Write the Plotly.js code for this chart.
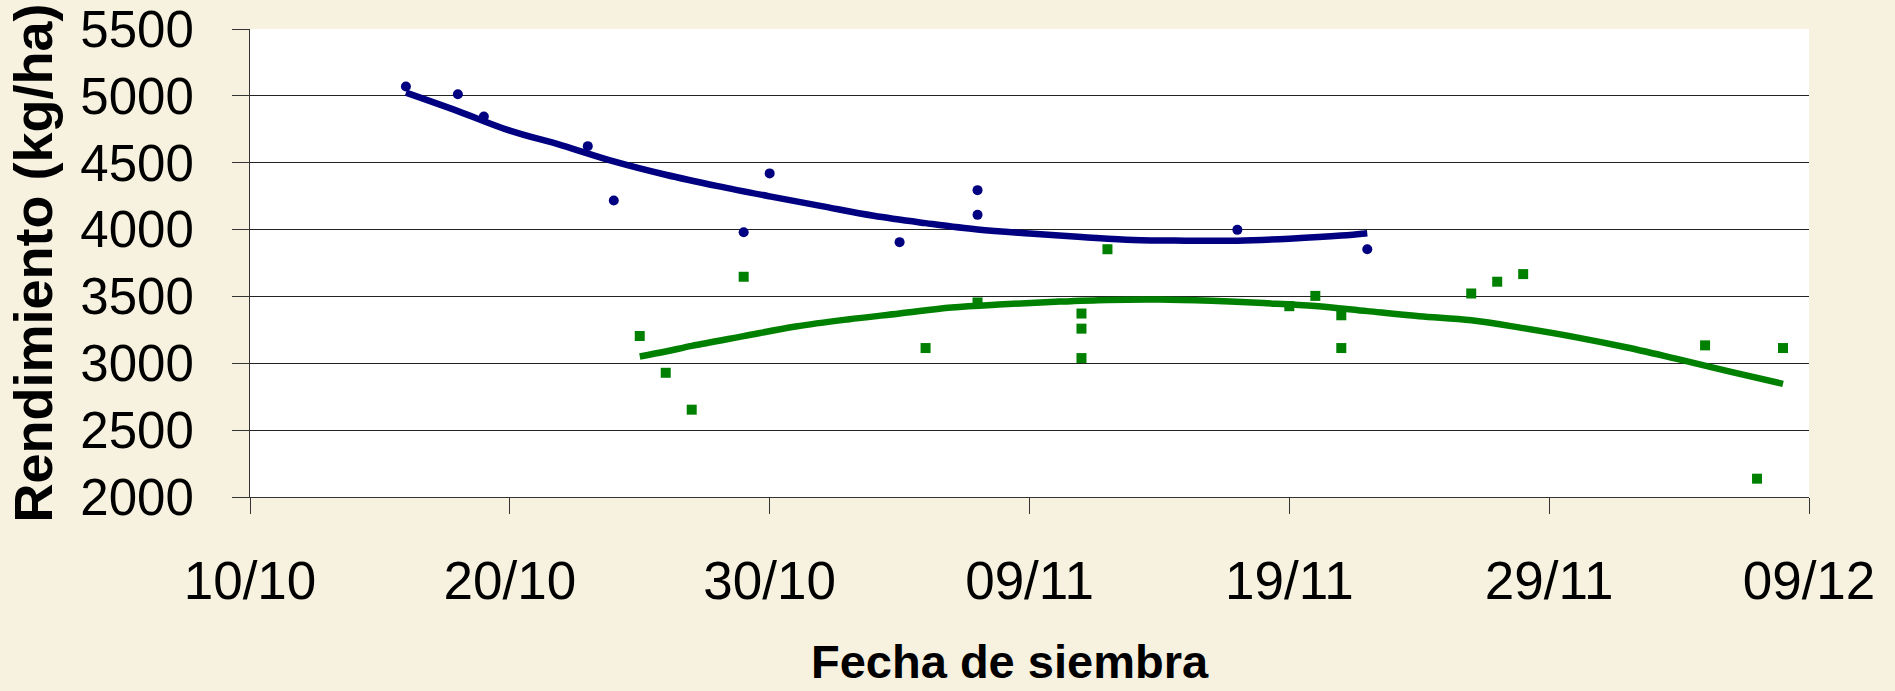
<!DOCTYPE html>
<html>
<head>
<meta charset="utf-8">
<script src="https://cdn.plot.ly/plotly-3.0.1.min.js"></script>
<style>
  html, body { margin: 0; padding: 0; background: #F7F2E0; }
  #chart { width: 1895px; height: 691px; }
</style>
</head>
<body>
<div id="chart"></div>
<script>
// Blue series (observed points)
const blueDates = ['2007-10-16','2007-10-18','2007-10-19','2007-10-23','2007-10-24','2007-10-29','2007-10-30','2007-11-04','2007-11-07','2007-11-07','2007-11-17','2007-11-22'];
const blueYield = [5070, 5012, 4845, 4624, 4218, 3980, 4420, 3906, 4295, 4110, 3998, 3853];

// Blue trend line
const blueTrendDates = ['2007-10-16','2007-10-18','2007-10-20','2007-10-22','2007-10-24','2007-10-26','2007-10-28','2007-10-30','2007-11-01','2007-11-03','2007-11-05','2007-11-07','2007-11-09','2007-11-11','2007-11-13','2007-11-15','2007-11-17','2007-11-19','2007-11-21','2007-11-22'];
const blueTrend = [5024, 4886, 4740, 4630, 4510, 4410, 4325, 4248, 4175, 4103, 4048, 4000, 3970, 3945, 3922, 3917, 3917, 3932, 3955, 3973];

// Green series (observed points)
const greenDates = ['2007-10-25','2007-10-26','2007-10-27','2007-10-29','2007-11-05','2007-11-07','2007-11-11','2007-11-11','2007-11-11','2007-11-12','2007-11-19','2007-11-20','2007-11-21','2007-11-21','2007-11-26','2007-11-27','2007-11-28','2007-12-05','2007-12-07','2007-12-08'];
const greenYield = [3204, 2929, 2653, 3647, 3114, 3455, 3372, 3259, 3039, 3853, 3427, 3504, 3359, 3114, 3522, 3610, 3667, 3134, 2137, 3114];

// Green trend line
const greenTrendDates = ['2007-10-25','2007-10-26','2007-10-27','2007-10-29','2007-10-31','2007-11-02','2007-11-04','2007-11-06','2007-11-08','2007-11-10','2007-11-12','2007-11-14','2007-11-16','2007-11-18','2007-11-20','2007-11-22','2007-11-24','2007-11-26','2007-11-28','2007-11-30','2007-12-02','2007-12-04','2007-12-06','2007-12-08'];
const greenTrend = [3051, 3088, 3130, 3203, 3275, 3328, 3372, 3417, 3441, 3460, 3474, 3477, 3467, 3450, 3429, 3390, 3352, 3322, 3263, 3196, 3118, 3029, 2936, 2846];

// Axis ticks
const xTickVals = ['2007-10-10','2007-10-20','2007-10-30','2007-11-09','2007-11-19','2007-11-29','2007-12-09'];
const xTickText = ['10/10','20/10','30/10','09/11','19/11','29/11','09/12'];
const yTickVals = [2000, 2500, 3000, 3500, 4000, 4500, 5000, 5500];

const xTitle = 'Fecha de siembra';
const yTitle = 'Rendimiento (kg/ha)';

const navy = '#000080';
const green = '#008000';
const fam = '"Liberation Sans", Arial, sans-serif';

const traces = [
  { x: blueTrendDates, y: blueTrend, type: 'scatter', mode: 'lines',
    line: { color: navy, width: 6.5, shape: 'spline' }, hoverinfo: 'skip', showlegend: false },
  { x: greenTrendDates, y: greenTrend, type: 'scatter', mode: 'lines',
    line: { color: green, width: 6.5, shape: 'spline' }, hoverinfo: 'skip', showlegend: false },
  { x: blueDates, y: blueYield, type: 'scatter', mode: 'markers',
    marker: { color: navy, size: 10, symbol: 'circle' }, showlegend: false },
  { x: greenDates, y: greenYield, type: 'scatter', mode: 'markers',
    marker: { color: green, size: 10, symbol: 'square' }, showlegend: false }
];

const layout = {
  width: 1895, height: 691,
  margin: { l: 250, r: 86, t: 29, b: 194 },
  paper_bgcolor: '#F7F2E0',
  plot_bgcolor: '#FFFFFF',
  font: { family: fam, color: '#000' },
  showlegend: false,
  xaxis: {
    type: 'date',
    range: ['2007-10-10', '2007-12-09'],
    tickmode: 'array', tickvals: xTickVals, ticktext: xTickText,
    showgrid: false, zeroline: false,
    showline: true, linecolor: '#333', linewidth: 1,
    ticks: 'outside', ticklen: 16, tickcolor: '#333', tickwidth: 1,
    tickfont: { size: 53, family: fam },
    ticklabelstandoff: 21
  },
  yaxis: {
    range: [2000, 5500],
    tickmode: 'array', tickvals: yTickVals,
    showgrid: true, gridcolor: '#222', gridwidth: 1,
    zeroline: false,
    showline: true, linecolor: '#333', linewidth: 1,
    ticks: 'outside', ticklen: 17, tickcolor: '#333', tickwidth: 1,
    tickfont: { size: 51, family: fam },
    ticklabelstandoff: 28,
    title: { text: yTitle, font: { size: 54, family: fam, weight: 'bold' }, standoff: 10 }
  },
  annotations: [
    { text: xTitle, xref: 'paper', yref: 'paper', x: 0.4875, y: -0.352,
      xanchor: 'center', yanchor: 'middle', showarrow: false, borderpad: 0,
      font: { size: 47, family: fam, weight: 'bold', color: '#000' } }
  ]
};

Plotly.newPlot('chart', traces, layout, { displayModeBar: false, staticPlot: true });
</script>
</body>
</html>
